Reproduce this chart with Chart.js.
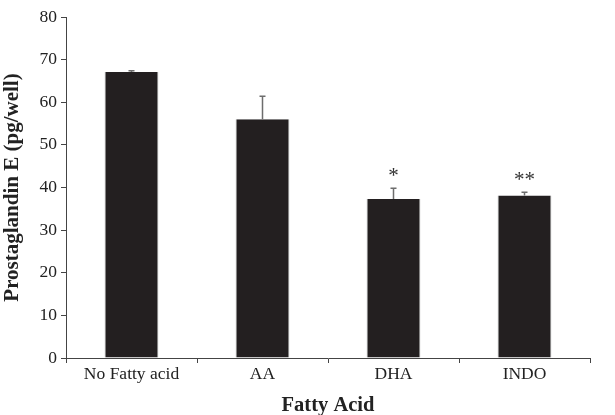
<!DOCTYPE html>
<html>
<head>
<meta charset="utf-8">
<script src="https://cdn.jsdelivr.net/npm/chart.js@4"></script>
<style>
  body { margin: 0; background: #fff; }
  #wrap { width: 615px; height: 415px; }
</style>
</head>
<body>
<div id="wrap"><canvas id="grafico"></canvas></div>
<script>
let categorias = ['No Fatty acid', 'AA', 'DHA', 'INDO'];
let valores = [67.1, 56.0, 37.3, 38.1];
let erros = [0.3, 5.4, 2.5, 0.8];
let marcas = ['', '', '*', '**'];
let ticksY = [0, 10, 20, 30, 40, 50, 60, 70, 80];

// barras de erro + asteriscos
const extras = {
    id: 'extras',
    afterDatasetsDraw(chart) {
        const ctx = chart.ctx;
        const meta = chart.getDatasetMeta(0);
        const y = chart.scales.y;
        ctx.save();
        meta.data.forEach((bar, i) => {
            let topo = y.getPixelForValue(valores[i] + erros[i]);
            ctx.strokeStyle = '#6d6d6d';
            ctx.lineWidth = 1.5;
            ctx.beginPath();
            ctx.moveTo(bar.x, bar.y);
            ctx.lineTo(bar.x, topo);
            ctx.moveTo(bar.x - 3, topo);
            ctx.lineTo(bar.x + 3, topo);
            ctx.stroke();
            if (marcas[i]) {
                ctx.fillStyle = '#333';
                ctx.font = '21px "Liberation Serif"';
                ctx.textAlign = 'center';
                ctx.textBaseline = 'middle';
                ctx.fillText(marcas[i], bar.x, topo - 12);
            }
        });
        ctx.restore();
    }
};

new Chart(document.getElementById('grafico'), {
    type: 'bar',
    data: {
        labels: categorias,
        datasets: [{
            label: 'Prostaglandin E',
            data: valores,
            backgroundColor: '#231f20',
            borderColor: '#9a9a9a',
            borderWidth: {right: 1, left: 1, top: 0, bottom: 0},
            barPercentage: 0.41,
            categoryPercentage: 1.0
        }]
    },
    options: {
        responsive: true,
        maintainAspectRatio: false,
        animation: false,
        layout: { padding: { top: 17, right: 25, left: 0, bottom: 0 } },
        plugins: { legend: { display: false }, tooltip: { enabled: false } },
        scales: {
            x: {
                afterFit: s => { s.height = 57; },
                grid: { drawOnChartArea: false, drawTicks: true, tickLength: 5, color: '#444' },
                border: { display: true, color: '#444', width: 1 },
                ticks: { color: '#222', font: { family: 'Liberation Serif', size: 17.5 }, padding: 1 },
                title: {
                    display: true, text: 'Fatty Acid', color: '#222',
                    font: { family: 'Liberation Serif', size: 20.5, weight: 'bold' },
                    padding: { top: 0, bottom: -3 }
                }
            },
            y: {
                min: 0, max: 80,
                afterBuildTicks: s => { s.ticks = ticksY.map(v => ({ value: v })); },
                afterFit: s => { s.width = 66; },
                grid: { drawOnChartArea: false, drawTicks: true, tickLength: 5, color: '#444' },
                border: { display: true, color: '#444', width: 1 },
                ticks: { color: '#222', font: { family: 'Liberation Serif', size: 17.5 }, padding: 4 },
                title: {
                    display: true, text: 'Prostaglandin E (pg/well)', color: '#222',
                    font: { family: 'Liberation Serif', size: 21, weight: 'bold' },
                    padding: { top: 0, bottom: 0 }
                }
            }
        }
    },
    plugins: [extras]
});
</script>
</body>
</html>
